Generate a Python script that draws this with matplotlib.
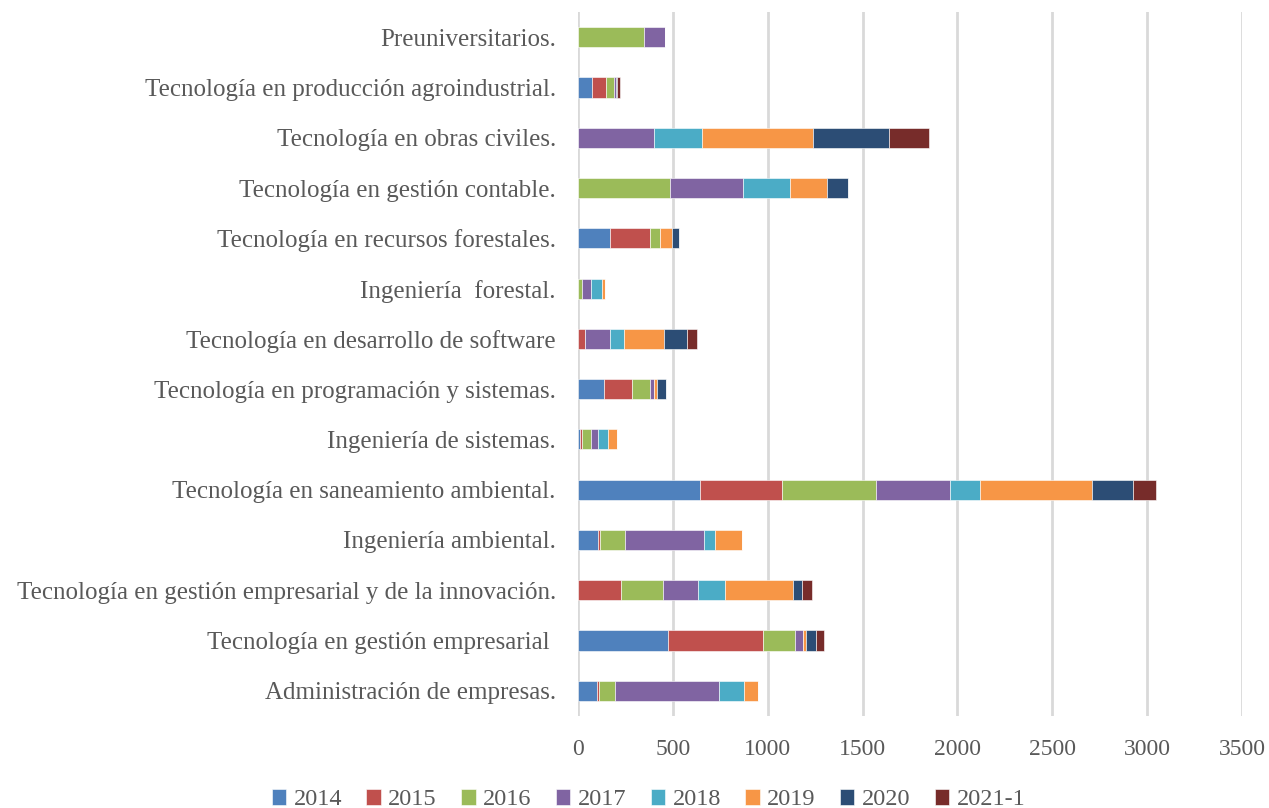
import numpy as np
import matplotlib
matplotlib.use('Agg')
import matplotlib.pyplot as plt

plt.rcParams['font.family'] = ['Liberation Serif', 'DejaVu Serif']

categories = [
	'Administración de empresas.',
	'Tecnología en gestión empresarial ',
	'Tecnología en gestión empresarial y de la innovación.',
	'Ingeniería ambiental.',
	'Tecnología en saneamiento ambiental.',
	'Ingeniería de sistemas.',
	'Tecnología en programación y sistemas.',
	'Tecnología en desarrollo de software',
	'Ingeniería  forestal.',
	'Tecnología en recursos forestales.',
	'Tecnología en gestión contable.',
	'Tecnología en obras civiles.',
	'Tecnología en producción agroindustrial.',
	'Preuniversitarios.',
]

years = ['2014', '2015', '2016', '2017', '2018', '2019', '2020', '2021-1']

v2014 = [102, 472, 0, 106, 641, 12, 136, 0, 0, 167, 0, 0, 76, 0]
v2015 = [7, 503, 227, 12, 436, 11, 149, 39, 0, 213, 0, 0, 72, 0]
v2016 = [85, 171, 222, 129, 496, 46, 95, 0, 23, 53, 484, 0, 40, 348]
v2017 = [547, 38, 186, 418, 388, 38, 21, 127, 46, 0, 387, 401, 11, 110]
v2018 = [135, 0, 141, 55, 158, 53, 0, 77, 58, 0, 245, 255, 0, 0]
v2019 = [71, 16, 359, 146, 591, 46, 16, 211, 14, 60, 197, 581, 0, 0]
v2020 = [0, 53, 44, 0, 217, 0, 46, 123, 0, 37, 109, 401, 8, 0]
v2021_1 = [0, 46, 55, 0, 121, 0, 0, 50, 0, 0, 0, 210, 16, 0]

series = [v2014, v2015, v2016, v2017, v2018, v2019, v2020, v2021_1]
colors = ['#4F81BD', '#C0504D', '#9BBB59', '#8064A2',
		  '#4BACC6', '#F79646', '#2C4D75', '#772C2A']

fig = plt.figure(figsize=(12.69, 8.08), dpi=100)
ax = fig.add_axes([0.4555, 0.114, 0.5232, 0.871])

y = np.arange(len(categories))
left = np.zeros(len(categories))
for vals, col, lab in zip(series, colors, years):
	vals = np.array(vals, dtype=float)
	ax.barh(y, vals, left=left, height=0.4, color=col, label=lab,
			edgecolor='white', linewidth=0.4, zorder=3)
	left += vals

ax.set_xlim(0, 3500)
ax.set_ylim(-0.5, 13.5)
ax.set_xticks(np.arange(0, 3501, 500))
ax.set_yticks(y)
ax.set_yticklabels(categories)
ax.grid(axis='x', color='#D9D9D9', linewidth=2, zorder=0)
for s in ax.spines.values():
	s.set_visible(False)
ax.tick_params(axis='both', length=0, colors='#595959', labelsize=17)
ax.tick_params(axis='y', pad=16, labelsize=18)
ax.tick_params(axis='x', pad=17)

fig.legend(loc='lower center', bbox_to_anchor=(0.511, -0.03), ncol=8,
		   frameon=False, fontsize=17.5, handlelength=0.6, handleheight=0.6,
		   handletextpad=0.3, columnspacing=1.0, labelcolor='#595959')

plt.savefig('out.png', dpi=100)
